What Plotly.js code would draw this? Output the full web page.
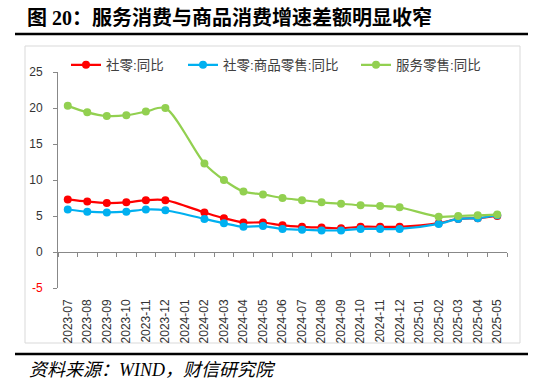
<!DOCTYPE html>
<html>
<head>
<meta charset="utf-8">
<script src="https://cdn.plot.ly/plotly-3.0.1.min.js"></script>
<style>html,body{margin:0;padding:0;background:#fff;}#chart{width:550px;height:385px;}</style>
</head>
<body>
<div id="chart"></div>
<script>
const months = ['2023-07','2023-08','2023-09','2023-10','2023-11','2023-12','2024-01','2024-02','2024-03','2024-04','2024-05','2024-06','2024-07','2024-08','2024-09','2024-10','2024-11','2024-12','2025-01','2025-02','2025-03','2025-04','2025-05'];
const retailTotal = [7.3,7.0,6.8,6.9,7.2,7.2,null,5.5,4.7,4.1,4.1,3.7,3.5,3.4,3.3,3.5,3.5,3.5,null,4.0,4.6,4.7,5.0];
const retailGoods = [5.9,5.6,5.5,5.6,5.9,5.8,null,4.6,4.0,3.5,3.6,3.2,3.1,3.0,3.0,3.2,3.2,3.2,null,3.9,4.6,4.7,5.1];
const retailServices = [20.3,19.4,18.9,19.0,19.5,20.0,null,12.3,10.0,8.4,8.0,7.5,7.2,6.9,6.7,6.5,6.4,6.2,null,4.9,5.0,5.1,5.2];
const seriesNames = ['社零:同比','社零:商品零售:同比','服务零售:同比'];
const yTicks = [-5,0,5,10,15,20,25];
const titleText = '图 20：服务消费与商品消费增速差额明显收窄';
const sourceText = '资料来源：WIND，财信研究院';

const W = 550, H = 385, L = 58, R = 43, T = 72, B = 97;
const pw = W - L - R, ph = H - T - B;
const fx = px => (px - L) / pw;
const fy = py => (H - B - py) / ph;
const yMin = -5, yMax = 25;

const cjk = '"Liberation Sans", "Noto Sans CJK SC", sans-serif';
function line(name, y, color, legend) {
  return {type:'scatter', mode:'lines+markers', x: months, y: y, name: name,
    connectgaps: true, legend: legend,
    line: {color: color, width: 2.2, shape: 'spline', smoothing: 0.8},
    marker: {color: color, size: 8}};
}
const traces = [
  line(seriesNames[0], retailTotal, '#FF0000', 'legend'),
  line(seriesNames[1], retailGoods, '#00B0F0', 'legend2'),
  line(seriesNames[2], retailServices, '#92D050', 'legend3'),
  {type:'scatter', x: [], y: [], xaxis: 'x2', showlegend: false, hoverinfo: 'skip'}
];

const boundaries = months.map((m, i) => i - 0.5).concat([months.length - 0.5]);
const legendCommon = {orientation:'h', yanchor:'middle', y: fy(65), xanchor:'left',
  font:{family: cjk, size: 13.5, color:'#404040'}, bgcolor:'rgba(0,0,0,0)', borderwidth:0};

const layout = {
  width: W, height: H,
  margin: {l: L, r: R, t: T, b: B},
  paper_bgcolor: '#fff', plot_bgcolor: '#fff',
  showlegend: true,
  title: {text: '<b>' + titleText + '</b>', xref: 'container', yref: 'container',
    x: 27/W, xanchor: 'left', y: 1 - 18/H, yanchor: 'middle',
    font: {family: '"Liberation Serif", "Noto Sans CJK SC", serif', size: 20, color: '#000'}},
  legend: Object.assign({}, legendCommon, {x: fx(66)}),
  legend2: Object.assign({}, legendCommon, {x: fx(183)}),
  legend3: Object.assign({}, legendCommon, {x: fx(356)}),
  xaxis: {type:'category', categoryorder:'array', categoryarray: months,
    range: [-0.5, months.length - 0.5], showline:false, ticks:'', showgrid:false, zeroline:false,
    tickangle: -90, ticklabelstandoff: 8,
    tickfont: {family: '"Liberation Sans", Arial, sans-serif', size: 12, color:'#333'}},
  xaxis2: {overlaying:'x', anchor:'free', position: (0 - yMin) / (yMax - yMin),
    type:'linear', range: [-0.5, months.length - 0.5], tickvals: boundaries,
    ticks:'outside', ticklen: 4, tickcolor:'#888', showline:true, linecolor:'#888', linewidth:1,
    showticklabels:false, showgrid:false, zeroline:false},
  yaxis: {range: [yMin, yMax], tickvals: yTicks,
    ticktext: yTicks.map(v => v < 0 ? '<span style="color:#FF0000">' + v + '</span>' : String(v)),
    showline:true, linecolor:'#888', linewidth:1, ticks:'outside', ticklen:4, tickcolor:'#888',
    showgrid:false, zeroline:false, ticklabelstandoff: 8,
    tickfont: {family: '"Liberation Sans", Arial, sans-serif', size: 12, color:'#333'}},
  shapes: [
    {type:'rect', xref:'paper', yref:'paper', x0: fx(25), x1: fx(520), y0: fy(343), y1: fy(46),
      line:{color:'#D9D9D9', width:1}, layer:'below'},
    {type:'line', xref:'paper', yref:'paper', x0: fx(15), x1: fx(528), y0: fy(34), y1: fy(34),
      line:{color:'#000', width:2.5}},
    {type:'line', xref:'paper', yref:'paper', x0: fx(15), x1: fx(528), y0: fy(354), y1: fy(354),
      line:{color:'#000', width:2.5}}
  ],
  annotations: [
    {text: '<i>' + sourceText + '</i>', xref:'paper', yref:'paper', x: fx(27), y: fy(370),
      xanchor:'left', yanchor:'middle', showarrow:false,
      font:{family:'"Liberation Serif", "Noto Sans CJK SC", serif', size: 18, color:'#000'}}
  ]
};
Plotly.newPlot('chart', traces, layout, {staticPlot: true, displayModeBar: false});
</script>
</body>
</html>
